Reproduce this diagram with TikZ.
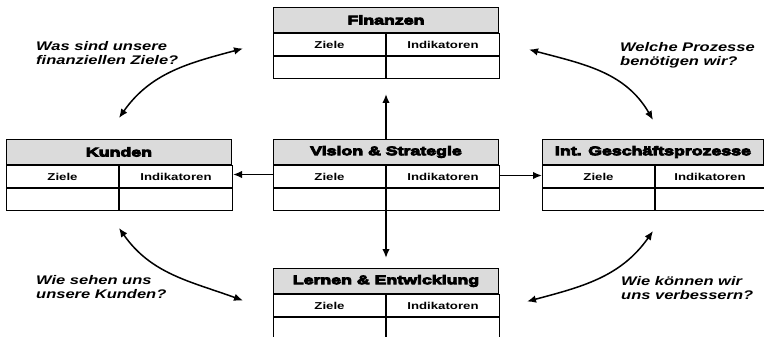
\documentclass[tikz,border=0pt]{standalone}
\usepackage{fontspec}
\setmainfont{Liberation Sans}[FakeStretch=1.32]
\newfontfamily\headfont{Liberation Sans Bold}[FakeStretch=1.42,FakeBold=7]
\usepackage{tikz}
\usetikzlibrary{arrows.meta,positioning,calc}
% one scorecard table: header, "Ziele | Indikatoren", one empty row
\newcommand{\bscTable}[4][225pt]{%
  \node[title, minimum width=#1, anchor=north west] (#2) at #3 {#4};
  \node[cell, anchor=north west] (#2-z) at (#2.south west) {Ziele};
  \node[cell, anchor=north west, minimum width=#1-112pt] (#2-i) at (#2-z.north east) {Indikatoren};
  \node[cell, anchor=north west] (#2-z2) at (#2-z.south west) {};
  \node[cell, anchor=north west, minimum width=#1-112pt] (#2-i2) at (#2-z2.north east) {};}

\begin{document}
\begin{tikzpicture}[
  x=1pt, y=1pt,
  title/.style={draw, line width=1pt, fill=black!14, minimum height=25pt,
                inner sep=0pt, font=\headfont\fontsize{12.5}{14}\selectfont},
  cell/.style ={draw, line width=1pt, fill=white, minimum width=112pt,
                minimum height=22pt, inner sep=0pt,
                font=\bfseries\fontsize{10}{12}\selectfont},
  quest/.style={align=left, inner sep=0pt, anchor=north west,
                font=\bfseries\itshape\fontsize{12.5}{14.5}\selectfont},
  imp/.style  ={-{Latex[length=9pt,width=7.5pt]}, line width=1.7pt},
  link/.style ={{Latex[length=9pt,width=7.5pt]}-{Latex[length=9pt,width=7.5pt]},
                line width=1.5pt}]

\useasboundingbox (0,0) rectangle (764,-337);

\bscTable{fin}{(273,-7)}{Finanzen}
\bscTable{kun}{(6,-139)}{Kunden}
\bscTable{vis}{(273,-139)}{Vision \& Strategie}
\bscTable[221pt]{int}{(542,-139)}{Int. Geschäftsprozesse}
\bscTable{lern}{(273,-268)}{Lernen \& Entwicklung}

% the strategy feeds the four perspectives
\draw[imp, shorten >=15pt] (vis.north) -- (fin.north |- fin-z2.south);
\draw[imp, shorten >=10pt] (vis.north |- vis-z2.south) -- (lern.north);
\draw[imp] ([yshift=2pt]vis-z.west) -- ([yshift=2pt]kun-i.east);
\draw[imp] ([yshift=1pt]vis-i.east) -- ([yshift=1pt]int-z.west);

% the ring of perspectives
\coordinate (fin-l)  at ([xshift=-30pt,yshift=-4pt]fin-z.west);
\coordinate (fin-r)  at ([xshift=29pt,yshift=-5pt]fin-i.east);
\coordinate (kun-t)  at ([yshift=21pt]kun.north);
\coordinate (kun-b)  at ([yshift=-17pt]kun.north |- kun-z2.south);
\coordinate (int-t)  at ([yshift=19pt]int.north);
\coordinate (int-b)  at ([yshift=-20pt]int.north |- int-z2.south);
\coordinate (lern-l) at ([xshift=-30pt,yshift=5pt]lern-z.west);
\coordinate (lern-r) at ([xshift=27pt,yshift=4pt]lern-i.east);

\draw[link] (kun-t) to[out=55,in=195]  (fin-l);
\draw[link] (fin-r) to[out=-15,in=120] (int-t);
\draw[link] (kun-b) to[out=-55,in=160] (lern-l);
\draw[link] (int-b) to[out=235,in=15]  (lern-r);

% ---------------------------- questions -----------------------------
\node[quest] (q-fin)  at (36,-41)   {Was sind unsere\\finanziellen Ziele?};
\node[quest] (q-int)  at (620,-42)  {Welche Prozesse\\benötigen wir?};
\node[quest] (q-kun)  at (36,-275)  {Wie sehen uns\\unsere Kunden?};
\node[quest] (q-lern) at (621,-276) {Wie können wir\\uns verbessern?};

\end{tikzpicture}
\end{document}
